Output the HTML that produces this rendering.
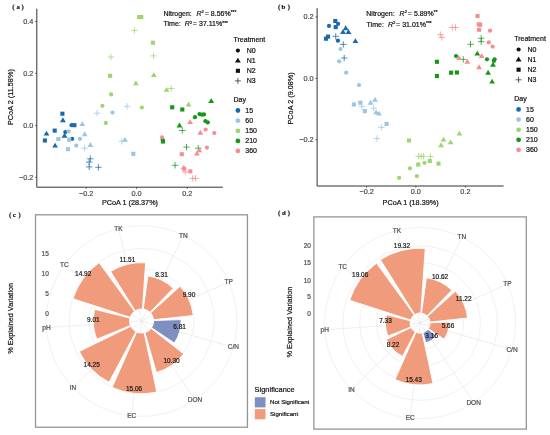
<!DOCTYPE html>
<html><head><meta charset="utf-8"><style>
html,body{margin:0;padding:0;background:#fff;width:550px;height:435px;overflow:hidden}
svg{display:block;filter:blur(0.35px)}
text{font-family:"Liberation Sans",sans-serif;stroke-width:0.2px}
</style></head><body>
<svg width="550" height="435" viewBox="0 0 550 435">
<rect width="550" height="435" fill="#fff"/>
<rect x="60.35" y="111.65" width="4.1" height="4.1" fill="#176aae"/>
<circle cx="71.6" cy="125.2" r="2.1" fill="#176aae"/>
<rect x="72.35" y="123.15" width="4.1" height="4.1" fill="#176aae"/>
<rect x="52.65" y="128.55" width="4.1" height="4.1" fill="#176aae"/>
<rect x="42.85" y="138.45" width="4.1" height="4.1" fill="#176aae"/>
<path d="M62.90 117.36L65.80 122.26L60.00 122.26Z" fill="#176aae"/>
<path d="M46.50 130.66L49.40 135.56L43.60 135.56Z" fill="#176aae"/>
<path d="M64.50 132.86L67.40 137.76L61.60 137.76Z" fill="#176aae"/>
<path d="M55.10 142.66L58.00 147.56L52.20 147.56Z" fill="#176aae"/>
<circle cx="65.3" cy="132.1" r="2.1" fill="#176aae"/>
<circle cx="72.2" cy="138.8" r="2.1" fill="#176aae"/>
<path d="M87.10 158.80H93.50M90.30 155.60V162.00" stroke="#176aae" stroke-width="0.75" fill="none"/>
<path d="M86.00 162.10H92.40M89.20 158.90V165.30" stroke="#176aae" stroke-width="0.75" fill="none"/>
<path d="M86.00 166.90H92.40M89.20 163.70V170.10" stroke="#176aae" stroke-width="0.75" fill="none"/>
<path d="M95.20 167.30H101.60M98.40 164.10V170.50" stroke="#176aae" stroke-width="0.75" fill="none"/>
<path d="M82.30 121.16L85.20 126.06L79.40 126.06Z" fill="#98c6e4"/>
<path d="M84.70 131.26L87.60 136.16L81.80 136.16Z" fill="#98c6e4"/>
<path d="M90.40 142.06L93.30 146.96L87.50 146.96Z" fill="#98c6e4"/>
<path d="M125.00 136.96L127.90 141.86L122.10 141.86Z" fill="#98c6e4"/>
<circle cx="68.6" cy="131.4" r="2.1" fill="#98c6e4"/>
<circle cx="80.0" cy="138.8" r="2.1" fill="#98c6e4"/>
<circle cx="76.3" cy="145.6" r="2.1" fill="#98c6e4"/>
<circle cx="112.5" cy="112.6" r="2.1" fill="#98c6e4"/>
<rect x="56.25" y="136.95" width="4.1" height="4.1" fill="#98c6e4"/>
<rect x="67.15" y="137.65" width="4.1" height="4.1" fill="#98c6e4"/>
<rect x="65.95" y="147.15" width="4.1" height="4.1" fill="#98c6e4"/>
<rect x="131.25" y="151.75" width="4.1" height="4.1" fill="#98c6e4"/>
<path d="M81.40 148.20H87.80M84.60 145.00V151.40" stroke="#98c6e4" stroke-width="0.75" fill="none"/>
<path d="M93.80 113.20H100.20M97.00 110.00V116.40" stroke="#98c6e4" stroke-width="0.75" fill="none"/>
<path d="M123.80 106.30H130.20M127.00 103.10V109.50" stroke="#98c6e4" stroke-width="0.75" fill="none"/>
<path d="M118.60 141.30H125.00M121.80 138.10V144.50" stroke="#98c6e4" stroke-width="0.75" fill="none"/>
<rect x="137.15" y="14.95" width="4.1" height="4.1" fill="#9bd66e"/>
<rect x="139.25" y="14.95" width="4.1" height="4.1" fill="#9bd66e"/>
<rect x="150.85" y="40.65" width="4.1" height="4.1" fill="#9bd66e"/>
<rect x="108.05" y="73.75" width="4.1" height="4.1" fill="#9bd66e"/>
<path d="M131.20 30.40H137.60M134.40 27.20V33.60" stroke="#9bd66e" stroke-width="0.75" fill="none"/>
<path d="M107.70 57.00H114.10M110.90 53.80V60.20" stroke="#9bd66e" stroke-width="0.75" fill="none"/>
<path d="M150.30 55.90H156.70M153.50 52.70V59.10" stroke="#9bd66e" stroke-width="0.75" fill="none"/>
<path d="M168.00 88.50H174.40M171.20 85.30V91.70" stroke="#9bd66e" stroke-width="0.75" fill="none"/>
<path d="M153.80 72.16L156.70 77.06L150.90 77.06Z" fill="#9bd66e"/>
<path d="M135.90 80.46L138.80 85.36L133.00 85.36Z" fill="#9bd66e"/>
<path d="M166.60 86.96L169.50 91.86L163.70 91.86Z" fill="#9bd66e"/>
<path d="M188.60 101.56L191.50 106.46L185.70 106.46Z" fill="#9bd66e"/>
<circle cx="111.1" cy="94.4" r="2.1" fill="#9bd66e"/>
<circle cx="102.4" cy="105.8" r="2.1" fill="#9bd66e"/>
<circle cx="141.9" cy="107.5" r="2.1" fill="#9bd66e"/>
<circle cx="105.8" cy="122.9" r="2.1" fill="#9bd66e"/>
<path d="M211.20 98.06L214.10 102.96L208.30 102.96Z" fill="#169816"/>
<path d="M179.50 122.56L182.40 127.46L176.60 127.46Z" fill="#169816"/>
<rect x="170.15" y="105.25" width="4.1" height="4.1" fill="#169816"/>
<rect x="180.25" y="107.45" width="4.1" height="4.1" fill="#169816"/>
<circle cx="162.6" cy="139.8" r="2.1" fill="#169816"/>
<rect x="160.95" y="139.45" width="4.1" height="4.1" fill="#169816"/>
<circle cx="199.5" cy="114.1" r="2.1" fill="#169816"/>
<circle cx="201.9" cy="114.7" r="2.1" fill="#169816"/>
<circle cx="204.0" cy="114.4" r="2.1" fill="#169816"/>
<circle cx="195.0" cy="117.2" r="2.1" fill="#169816"/>
<circle cx="205.3" cy="121.1" r="2.1" fill="#169816"/>
<circle cx="207.8" cy="122.4" r="2.1" fill="#169816"/>
<path d="M179.10 130.50H185.50M182.30 127.30V133.70" stroke="#169816" stroke-width="0.75" fill="none"/>
<path d="M183.30 147.10H189.70M186.50 143.90V150.30" stroke="#169816" stroke-width="0.75" fill="none"/>
<path d="M195.10 148.20H201.50M198.30 145.00V151.40" stroke="#169816" stroke-width="0.75" fill="none"/>
<path d="M171.90 165.30H178.30M175.10 162.10V168.50" stroke="#169816" stroke-width="0.75" fill="none"/>
<circle cx="162.0" cy="137.3" r="2.1" fill="#f98c90"/>
<circle cx="205.7" cy="129.5" r="2.1" fill="#f98c90"/>
<circle cx="214.3" cy="133.0" r="2.1" fill="#f98c90"/>
<circle cx="206.9" cy="147.6" r="2.1" fill="#f98c90"/>
<path d="M190.10 119.16L193.00 124.06L187.20 124.06Z" fill="#f98c90"/>
<path d="M200.30 129.86L203.20 134.76L197.40 134.76Z" fill="#f98c90"/>
<path d="M199.30 147.46L202.20 152.36L196.40 152.36Z" fill="#f98c90"/>
<path d="M196.90 150.66L199.80 155.56L194.00 155.56Z" fill="#f98c90"/>
<rect x="179.75" y="152.15" width="4.1" height="4.1" fill="#f98c90"/>
<rect x="181.95" y="166.55" width="4.1" height="4.1" fill="#f98c90"/>
<rect x="188.25" y="169.35" width="4.1" height="4.1" fill="#f98c90"/>
<path d="M180.40 168.40H186.80M183.60 165.20V171.60" stroke="#f98c90" stroke-width="0.75" fill="none"/>
<path d="M182.10 172.00H188.50M185.30 168.80V175.20" stroke="#f98c90" stroke-width="0.75" fill="none"/>
<path d="M189.50 178.40H195.90M192.70 175.20V181.60" stroke="#f98c90" stroke-width="0.75" fill="none"/>
<path d="M192.30 178.40H198.70M195.50 175.20V181.60" stroke="#f98c90" stroke-width="0.75" fill="none"/>
<path d="M36.8 8.7V187.2H222.8" stroke="#333333" stroke-width="1" fill="none"/>
<path d="M35.199999999999996 21.5H36.8" stroke="#333333" stroke-width="0.8"/>
<text x="33.30" y="23.80" font-size="7.3" text-anchor="end" fill="#4d4d4d" stroke="#4d4d4d">0.4</text>
<path d="M35.199999999999996 73.4H36.8" stroke="#333333" stroke-width="0.8"/>
<text x="33.30" y="75.70" font-size="7.3" text-anchor="end" fill="#4d4d4d" stroke="#4d4d4d">0.2</text>
<path d="M35.199999999999996 125.4H36.8" stroke="#333333" stroke-width="0.8"/>
<text x="33.30" y="127.70" font-size="7.3" text-anchor="end" fill="#4d4d4d" stroke="#4d4d4d">0.0</text>
<path d="M35.199999999999996 177.4H36.8" stroke="#333333" stroke-width="0.8"/>
<text x="33.30" y="179.70" font-size="7.3" text-anchor="end" fill="#4d4d4d" stroke="#4d4d4d">−0.2</text>
<path d="M86.1 187.2V188.79999999999998" stroke="#333333" stroke-width="0.8"/>
<text x="86.10" y="195.60" font-size="7.3" text-anchor="middle" fill="#4d4d4d" stroke="#4d4d4d">−0.2</text>
<path d="M136.5 187.2V188.79999999999998" stroke="#333333" stroke-width="0.8"/>
<text x="136.50" y="195.60" font-size="7.3" text-anchor="middle" fill="#4d4d4d" stroke="#4d4d4d">0.0</text>
<path d="M187.3 187.2V188.79999999999998" stroke="#333333" stroke-width="0.8"/>
<text x="187.30" y="195.60" font-size="7.3" text-anchor="middle" fill="#4d4d4d" stroke="#4d4d4d">0.2</text>
<circle cx="329.0" cy="25.9" r="2.1" fill="#176aae"/>
<rect x="333.25" y="18.95" width="4.1" height="4.1" fill="#176aae"/>
<circle cx="338.1" cy="23.8" r="2.1" fill="#176aae"/>
<rect x="333.65" y="25.05" width="4.1" height="4.1" fill="#176aae"/>
<path d="M343.00 29.06L345.90 33.96L340.10 33.96Z" fill="#176aae"/>
<path d="M348.50 29.06L351.40 33.96L345.60 33.96Z" fill="#176aae"/>
<path d="M345.70 25.36L348.60 30.26L342.80 30.26Z" fill="#176aae"/>
<rect x="323.95" y="36.65" width="4.1" height="4.1" fill="#176aae"/>
<rect x="325.95" y="34.55" width="4.1" height="4.1" fill="#176aae"/>
<path d="M332.50 36.30H338.90M335.70 33.10V39.50" stroke="#176aae" stroke-width="0.75" fill="none"/>
<circle cx="337.9" cy="40.7" r="2.1" fill="#176aae"/>
<path d="M340.10 44.40H346.50M343.30 41.20V47.60" stroke="#176aae" stroke-width="0.75" fill="none"/>
<path d="M355.40 38.16L358.30 43.06L352.50 43.06Z" fill="#176aae"/>
<path d="M341.00 58.00H347.40M344.20 54.80V61.20" stroke="#176aae" stroke-width="0.75" fill="none"/>
<circle cx="340.5" cy="49.0" r="2.1" fill="#98c6e4"/>
<circle cx="339.1" cy="61.3" r="2.1" fill="#98c6e4"/>
<circle cx="346.2" cy="72.7" r="2.1" fill="#98c6e4"/>
<circle cx="359.0" cy="85.0" r="2.1" fill="#98c6e4"/>
<rect x="351.85" y="102.45" width="4.1" height="4.1" fill="#98c6e4"/>
<rect x="358.25" y="100.65" width="4.1" height="4.1" fill="#98c6e4"/>
<rect x="362.75" y="109.05" width="4.1" height="4.1" fill="#98c6e4"/>
<rect x="384.55" y="121.85" width="4.1" height="4.1" fill="#98c6e4"/>
<path d="M358.70 106.40H365.10M361.90 103.20V109.60" stroke="#98c6e4" stroke-width="0.75" fill="none"/>
<path d="M370.60 108.20H377.00M373.80 105.00V111.40" stroke="#98c6e4" stroke-width="0.75" fill="none"/>
<path d="M378.10 127.40H384.50M381.30 124.20V130.60" stroke="#98c6e4" stroke-width="0.75" fill="none"/>
<path d="M373.70 138.60H380.10M376.90 135.40V141.80" stroke="#98c6e4" stroke-width="0.75" fill="none"/>
<path d="M370.60 99.76L373.50 104.66L367.70 104.66Z" fill="#98c6e4"/>
<path d="M375.00 96.96L377.90 101.86L372.10 101.86Z" fill="#98c6e4"/>
<path d="M376.10 109.46L379.00 114.36L373.20 114.36Z" fill="#98c6e4"/>
<path d="M379.00 110.66L381.90 115.56L376.10 115.56Z" fill="#98c6e4"/>
<rect x="406.95" y="138.45" width="4.1" height="4.1" fill="#9bd66e"/>
<rect x="416.15" y="162.45" width="4.1" height="4.1" fill="#9bd66e"/>
<rect x="427.75" y="158.95" width="4.1" height="4.1" fill="#9bd66e"/>
<rect x="436.45" y="161.55" width="4.1" height="4.1" fill="#9bd66e"/>
<path d="M415.50 156.30H421.90M418.70 153.10V159.50" stroke="#9bd66e" stroke-width="0.75" fill="none"/>
<path d="M418.00 156.30H424.40M421.20 153.10V159.50" stroke="#9bd66e" stroke-width="0.75" fill="none"/>
<path d="M420.40 156.30H426.80M423.60 153.10V159.50" stroke="#9bd66e" stroke-width="0.75" fill="none"/>
<path d="M427.20 156.40H433.60M430.40 153.20V159.60" stroke="#9bd66e" stroke-width="0.75" fill="none"/>
<circle cx="424.5" cy="162.8" r="2.1" fill="#9bd66e"/>
<circle cx="410.0" cy="168.3" r="2.1" fill="#9bd66e"/>
<circle cx="416.8" cy="176.1" r="2.1" fill="#9bd66e"/>
<circle cx="399.1" cy="177.8" r="2.1" fill="#9bd66e"/>
<path d="M459.40 130.66L462.30 135.56L456.50 135.56Z" fill="#9bd66e"/>
<path d="M443.50 136.66L446.40 141.56L440.60 141.56Z" fill="#9bd66e"/>
<path d="M450.60 139.46L453.50 144.36L447.70 144.36Z" fill="#9bd66e"/>
<path d="M441.10 142.36L444.00 147.26L438.20 147.26Z" fill="#9bd66e"/>
<rect x="434.85" y="59.75" width="4.1" height="4.1" fill="#169816"/>
<rect x="434.85" y="73.95" width="4.1" height="4.1" fill="#169816"/>
<rect x="449.05" y="70.65" width="4.1" height="4.1" fill="#169816"/>
<rect x="454.85" y="70.45" width="4.1" height="4.1" fill="#169816"/>
<circle cx="456.0" cy="56.0" r="2.1" fill="#169816"/>
<circle cx="487.0" cy="59.3" r="2.1" fill="#169816"/>
<circle cx="494.6" cy="59.3" r="2.1" fill="#169816"/>
<circle cx="493.9" cy="60.9" r="2.1" fill="#169816"/>
<path d="M477.30 50.66L480.20 55.56L474.40 55.56Z" fill="#169816"/>
<path d="M493.00 61.76L495.90 66.66L490.10 66.66Z" fill="#169816"/>
<path d="M488.10 69.76L491.00 74.66L485.20 74.66Z" fill="#169816"/>
<path d="M492.10 78.66L495.00 83.56L489.20 83.56Z" fill="#169816"/>
<path d="M467.30 44.30H473.70M470.50 41.10V47.50" stroke="#169816" stroke-width="0.75" fill="none"/>
<path d="M478.00 38.20H484.40M481.20 35.00V41.40" stroke="#169816" stroke-width="0.75" fill="none"/>
<path d="M478.00 41.70H484.40M481.20 38.50V44.90" stroke="#169816" stroke-width="0.75" fill="none"/>
<path d="M460.10 59.40H466.50M463.30 56.20V62.60" stroke="#169816" stroke-width="0.75" fill="none"/>
<rect x="475.45" y="14.05" width="4.1" height="4.1" fill="#f98c90"/>
<rect x="476.75" y="22.25" width="4.1" height="4.1" fill="#f98c90"/>
<rect x="478.15" y="22.75" width="4.1" height="4.1" fill="#f98c90"/>
<rect x="477.05" y="27.75" width="4.1" height="4.1" fill="#f98c90"/>
<path d="M449.10 27.50H455.50M452.30 24.30V30.70" stroke="#f98c90" stroke-width="0.75" fill="none"/>
<path d="M452.30 27.50H458.70M455.50 24.30V30.70" stroke="#f98c90" stroke-width="0.75" fill="none"/>
<path d="M437.10 34.60H443.50M440.30 31.40V37.80" stroke="#f98c90" stroke-width="0.75" fill="none"/>
<path d="M438.70 37.40H445.10M441.90 34.20V40.60" stroke="#f98c90" stroke-width="0.75" fill="none"/>
<circle cx="490.0" cy="30.7" r="2.1" fill="#f98c90"/>
<circle cx="488.8" cy="42.4" r="2.1" fill="#f98c90"/>
<circle cx="492.6" cy="46.6" r="2.1" fill="#f98c90"/>
<path d="M481.60 53.16L484.50 58.06L478.70 58.06Z" fill="#f98c90"/>
<path d="M458.80 54.96L461.70 59.86L455.90 59.86Z" fill="#f98c90"/>
<path d="M467.30 58.76L470.20 63.66L464.40 63.66Z" fill="#f98c90"/>
<path d="M479.00 64.26L481.90 69.16L476.10 69.16Z" fill="#f98c90"/>
<path d="M317.1 8.2V186.0H503.6" stroke="#333333" stroke-width="1" fill="none"/>
<path d="M315.5 16.9H317.1" stroke="#333333" stroke-width="0.8"/>
<text x="313.60" y="19.20" font-size="7.3" text-anchor="end" fill="#4d4d4d" stroke="#4d4d4d">0.2</text>
<path d="M315.5 78.4H317.1" stroke="#333333" stroke-width="0.8"/>
<text x="313.60" y="80.70" font-size="7.3" text-anchor="end" fill="#4d4d4d" stroke="#4d4d4d">0.0</text>
<path d="M315.5 139.8H317.1" stroke="#333333" stroke-width="0.8"/>
<text x="313.60" y="142.10" font-size="7.3" text-anchor="end" fill="#4d4d4d" stroke="#4d4d4d">−0.2</text>
<path d="M366.6 186.0V187.6" stroke="#333333" stroke-width="0.8"/>
<text x="366.60" y="194.40" font-size="7.3" text-anchor="middle" fill="#4d4d4d" stroke="#4d4d4d">−0.2</text>
<path d="M415.8 186.0V187.6" stroke="#333333" stroke-width="0.8"/>
<text x="415.80" y="194.40" font-size="7.3" text-anchor="middle" fill="#4d4d4d" stroke="#4d4d4d">0.0</text>
<path d="M465.4 186.0V187.6" stroke="#333333" stroke-width="0.8"/>
<text x="465.40" y="194.40" font-size="7.3" text-anchor="middle" fill="#4d4d4d" stroke="#4d4d4d">0.2</text>
<text x="130.00" y="204.60" font-size="7.25" text-anchor="middle" fill="#111" stroke="#111">PCoA 1 (28.37%)</text>
<text x="410.60" y="204.80" font-size="7.25" text-anchor="middle" fill="#111" stroke="#111">PCoA 1 (18.39%)</text>
<text x="0.00" y="0.00" font-size="7.3" text-anchor="middle" fill="#111" stroke="#111" transform="translate(12.6 97.1) rotate(-90)">PCoA 2 (11.58%)</text>
<text x="0.00" y="0.00" font-size="7.3" text-anchor="middle" fill="#111" stroke="#111" transform="translate(293.0 98.4) rotate(-90)">PCoA 2 (9.08%)</text>
<text y="15.7" font-size="7" fill="#111" stroke="#111"><tspan x="163.4">Nitrogen:</tspan><tspan x="196.5" font-style="italic">R</tspan><tspan font-size="4.3" dy="-2.8">2</tspan><tspan x="204.7" dy="2.8">=</tspan><tspan x="210.8">8.56%</tspan><tspan font-size="4.8" dy="-1.3" dx="0.1">***</tspan></text>
<text y="26.3" font-size="7" fill="#111" stroke="#111"><tspan x="163.5">Time:</tspan><tspan x="184.7" font-style="italic">R</tspan><tspan font-size="4.3" dy="-2.8">2</tspan><tspan x="192.8" dy="2.8">=</tspan><tspan x="199.0">37.11%</tspan><tspan font-size="4.8" dy="-1.3" dx="0.1">***</tspan></text>
<text y="15.7" font-size="7" fill="#111" stroke="#111"><tspan x="366.3">Nitrogen:</tspan><tspan x="399.6" font-style="italic">R</tspan><tspan font-size="4.3" dy="-2.8">2</tspan><tspan x="407.7" dy="2.8">=</tspan><tspan x="413.9">5.89%</tspan><tspan font-size="4.8" dy="-1.3" dx="0.1">**</tspan></text>
<text y="26.5" font-size="7" fill="#111" stroke="#111"><tspan x="366.6">Time:</tspan><tspan x="387.9" font-style="italic">R</tspan><tspan font-size="4.3" dy="-2.8">2</tspan><tspan x="396.0" dy="2.8">=</tspan><tspan x="402.2">31.01%</tspan><tspan font-size="4.8" dy="-1.3" dx="0.1">***</tspan></text>
<text x="233.50" y="42.30" font-size="7" text-anchor="start" fill="#111" stroke="#111">Treatment</text>
<circle cx="237.9" cy="50.6" r="2.1" fill="#111"/>
<text x="246.70" y="53.10" font-size="7" text-anchor="start" fill="#111" stroke="#111">N0</text>
<path d="M237.90 57.66L240.80 62.56L235.00 62.56Z" fill="#111"/>
<text x="246.70" y="63.10" font-size="7" text-anchor="start" fill="#111" stroke="#111">N1</text>
<rect x="235.85" y="68.75" width="4.1" height="4.1" fill="#111"/>
<text x="246.70" y="73.30" font-size="7" text-anchor="start" fill="#111" stroke="#111">N2</text>
<path d="M234.90 80.90H240.90M237.90 77.90V83.90" stroke="#333" stroke-width="0.8" fill="none"/>
<text x="246.70" y="83.40" font-size="7" text-anchor="start" fill="#111" stroke="#111">N3</text>
<text x="233.50" y="102.40" font-size="7" text-anchor="start" fill="#111" stroke="#111">Day</text>
<circle cx="237.9" cy="110.5" r="2.4" fill="#176aae"/>
<text x="245.30" y="113.00" font-size="7" text-anchor="start" fill="#111" stroke="#111">15</text>
<circle cx="237.9" cy="120.7" r="2.4" fill="#98c6e4"/>
<text x="245.30" y="123.20" font-size="7" text-anchor="start" fill="#111" stroke="#111">60</text>
<circle cx="237.9" cy="130.9" r="2.4" fill="#9bd66e"/>
<text x="245.30" y="133.40" font-size="7" text-anchor="start" fill="#111" stroke="#111">150</text>
<circle cx="237.9" cy="140.9" r="2.4" fill="#169816"/>
<text x="245.30" y="143.40" font-size="7" text-anchor="start" fill="#111" stroke="#111">210</text>
<circle cx="237.9" cy="150.9" r="2.4" fill="#f98c90"/>
<text x="245.30" y="153.40" font-size="7" text-anchor="start" fill="#111" stroke="#111">360</text>
<text x="514.20" y="41.20" font-size="7" text-anchor="start" fill="#111" stroke="#111">Treatment</text>
<circle cx="518.6" cy="49.5" r="2.1" fill="#111"/>
<text x="527.40" y="52.00" font-size="7" text-anchor="start" fill="#111" stroke="#111">N0</text>
<path d="M518.60 56.56L521.50 61.46L515.70 61.46Z" fill="#111"/>
<text x="527.40" y="62.00" font-size="7" text-anchor="start" fill="#111" stroke="#111">N1</text>
<rect x="516.55" y="67.65" width="4.1" height="4.1" fill="#111"/>
<text x="527.40" y="72.20" font-size="7" text-anchor="start" fill="#111" stroke="#111">N2</text>
<path d="M515.60 79.80H521.60M518.60 76.80V82.80" stroke="#333" stroke-width="0.8" fill="none"/>
<text x="527.40" y="82.30" font-size="7" text-anchor="start" fill="#111" stroke="#111">N3</text>
<text x="514.20" y="101.30" font-size="7" text-anchor="start" fill="#111" stroke="#111">Day</text>
<circle cx="518.6" cy="109.4" r="2.4" fill="#176aae"/>
<text x="526.00" y="111.90" font-size="7" text-anchor="start" fill="#111" stroke="#111">15</text>
<circle cx="518.6" cy="119.6" r="2.4" fill="#98c6e4"/>
<text x="526.00" y="122.10" font-size="7" text-anchor="start" fill="#111" stroke="#111">60</text>
<circle cx="518.6" cy="129.8" r="2.4" fill="#9bd66e"/>
<text x="526.00" y="132.30" font-size="7" text-anchor="start" fill="#111" stroke="#111">150</text>
<circle cx="518.6" cy="139.8" r="2.4" fill="#169816"/>
<text x="526.00" y="142.30" font-size="7" text-anchor="start" fill="#111" stroke="#111">210</text>
<circle cx="518.6" cy="149.8" r="2.4" fill="#f98c90"/>
<text x="526.00" y="152.30" font-size="7" text-anchor="start" fill="#111" stroke="#111">360</text>
<text x="12.3 16.5 21.6" y="9.0" font-size="6.8" font-weight="bold" fill="#1a1a1a" stroke="#1a1a1a" stroke-width="0.25" style="font-family:'Liberation Serif',serif">(a)</text>
<text x="277.9 281.6 287.8" y="8.7" font-size="6.8" font-weight="bold" fill="#1a1a1a" stroke="#1a1a1a" stroke-width="0.25" style="font-family:'Liberation Serif',serif">(b)</text>
<text x="8.9 12.7 18.5" y="216.9" font-size="6.8" font-weight="bold" fill="#1a1a1a" stroke="#1a1a1a" stroke-width="0.25" style="font-family:'Liberation Serif',serif">(c)</text>
<text x="277.9 281.9 287.8" y="214.7" font-size="6.8" font-weight="bold" fill="#1a1a1a" stroke="#1a1a1a" stroke-width="0.25" style="font-family:'Liberation Serif',serif">(d)</text>
<circle cx="141.6" cy="321.0" r="12.07" fill="none" stroke="#ebebeb" stroke-width="0.7"/>
<circle cx="141.6" cy="321.0" r="32.20" fill="none" stroke="#ebebeb" stroke-width="0.7"/>
<circle cx="141.6" cy="321.0" r="52.32" fill="none" stroke="#ebebeb" stroke-width="0.7"/>
<circle cx="141.6" cy="321.0" r="72.44" fill="none" stroke="#ebebeb" stroke-width="0.7"/>
<circle cx="141.6" cy="321.0" r="95.36" fill="none" stroke="#ebebeb" stroke-width="0.7"/>
<path d="M141.6 321.0L233.29 347.19" stroke="#e6e6e6" stroke-width="0.7"/>
<path d="M141.6 321.0L195.00 400.00" stroke="#e6e6e6" stroke-width="0.7"/>
<path d="M141.6 321.0L131.73 415.84" stroke="#e6e6e6" stroke-width="0.7"/>
<path d="M141.6 321.0L73.07 387.31" stroke="#e6e6e6" stroke-width="0.7"/>
<path d="M141.6 321.0L46.48 327.75" stroke="#e6e6e6" stroke-width="0.7"/>
<path d="M141.6 321.0L64.40 265.03" stroke="#e6e6e6" stroke-width="0.7"/>
<path d="M141.6 321.0L118.44 228.50" stroke="#e6e6e6" stroke-width="0.7"/>
<path d="M141.6 321.0L183.32 235.25" stroke="#e6e6e6" stroke-width="0.7"/>
<path d="M141.6 321.0L228.67 282.13" stroke="#e6e6e6" stroke-width="0.7"/>
<path d="M153.67 320.57L181.06 319.58A39.48 39.48 0 0 1 174.35 343.05L151.62 327.74A12.07 12.07 0 0 0 153.67 320.57Z" fill="#7f8fc0" stroke="#fff" stroke-width="0.9"/>
<path d="M151.12 328.42L183.81 353.91A53.53 53.53 0 0 1 156.41 372.44L144.94 332.60A12.07 12.07 0 0 0 151.12 328.42Z" fill="#f09b7c" stroke="#fff" stroke-width="0.9"/>
<path d="M144.12 332.81L156.78 392.08A72.69 72.69 0 0 1 112.10 387.43L136.70 332.04A12.07 12.07 0 0 0 144.12 332.81Z" fill="#f09b7c" stroke="#fff" stroke-width="0.9"/>
<path d="M135.94 331.67L109.07 382.33A69.43 69.43 0 0 1 79.23 351.50L130.75 326.30A12.07 12.07 0 0 0 135.94 331.67Z" fill="#f09b7c" stroke="#fff" stroke-width="0.9"/>
<path d="M130.41 325.53L96.80 339.15A48.34 48.34 0 0 1 94.69 309.35L129.88 318.09A12.07 12.07 0 0 0 130.41 325.53Z" fill="#f09b7c" stroke="#fff" stroke-width="0.9"/>
<path d="M130.11 317.28L72.99 298.78A72.12 72.12 0 0 1 99.15 262.69L134.49 311.24A12.07 12.07 0 0 0 130.11 317.28Z" fill="#f09b7c" stroke="#fff" stroke-width="0.9"/>
<path d="M135.19 310.77L110.60 271.51A58.40 58.40 0 0 1 145.62 262.74L142.43 308.95A12.07 12.07 0 0 0 135.19 310.77Z" fill="#f09b7c" stroke="#fff" stroke-width="0.9"/>
<path d="M143.27 309.04L147.89 275.92A45.52 45.52 0 0 1 173.19 288.23L149.98 312.31A12.07 12.07 0 0 0 143.27 309.04Z" fill="#f09b7c" stroke="#fff" stroke-width="0.9"/>
<path d="M150.56 312.91L180.15 286.22A51.92 51.92 0 0 1 193.23 315.52L153.61 319.73A12.07 12.07 0 0 0 150.56 312.91Z" fill="#f09b7c" stroke="#fff" stroke-width="0.9"/>
<text x="179.56" y="329.15" font-size="6.5" text-anchor="middle" fill="#1a1a1a" stroke="#1a1a1a">6.81</text>
<text x="171.58" y="362.65" font-size="6.5" text-anchor="middle" fill="#1a1a1a" stroke="#1a1a1a">10.30</text>
<text x="134.07" y="390.60" font-size="6.5" text-anchor="middle" fill="#1a1a1a" stroke="#1a1a1a">15.06</text>
<text x="91.71" y="366.58" font-size="6.5" text-anchor="middle" fill="#1a1a1a" stroke="#1a1a1a">14.25</text>
<text x="93.38" y="321.72" font-size="6.5" text-anchor="middle" fill="#1a1a1a" stroke="#1a1a1a">9.01</text>
<text x="83.21" y="275.96" font-size="6.5" text-anchor="middle" fill="#1a1a1a" stroke="#1a1a1a">14.92</text>
<text x="127.42" y="261.65" font-size="6.5" text-anchor="middle" fill="#1a1a1a" stroke="#1a1a1a">11.51</text>
<text x="161.51" y="277.37" font-size="6.5" text-anchor="middle" fill="#1a1a1a" stroke="#1a1a1a">8.31</text>
<text x="189.01" y="297.14" font-size="6.5" text-anchor="middle" fill="#1a1a1a" stroke="#1a1a1a">9.90</text>
<text x="233.29" y="349.49" font-size="6.5" text-anchor="middle" fill="#4d4d4d" stroke="#4d4d4d">C/N</text>
<text x="195.00" y="402.30" font-size="6.5" text-anchor="middle" fill="#4d4d4d" stroke="#4d4d4d">DON</text>
<text x="131.73" y="418.14" font-size="6.5" text-anchor="middle" fill="#4d4d4d" stroke="#4d4d4d">EC</text>
<text x="73.07" y="389.61" font-size="6.5" text-anchor="middle" fill="#4d4d4d" stroke="#4d4d4d">IN</text>
<text x="46.48" y="330.05" font-size="6.5" text-anchor="middle" fill="#4d4d4d" stroke="#4d4d4d">pH</text>
<text x="64.40" y="267.33" font-size="6.5" text-anchor="middle" fill="#4d4d4d" stroke="#4d4d4d">TC</text>
<text x="118.44" y="230.80" font-size="6.5" text-anchor="middle" fill="#4d4d4d" stroke="#4d4d4d">TK</text>
<text x="183.32" y="237.55" font-size="6.5" text-anchor="middle" fill="#4d4d4d" stroke="#4d4d4d">TN</text>
<text x="228.67" y="284.43" font-size="6.5" text-anchor="middle" fill="#4d4d4d" stroke="#4d4d4d">TP</text>
<text x="48.80" y="255.70" font-size="6.5" text-anchor="end" fill="#4d4d4d" stroke="#4d4d4d">15</text>
<text x="48.80" y="275.90" font-size="6.5" text-anchor="end" fill="#4d4d4d" stroke="#4d4d4d">10</text>
<text x="48.80" y="296.30" font-size="6.5" text-anchor="end" fill="#4d4d4d" stroke="#4d4d4d">5</text>
<text x="48.80" y="316.30" font-size="6.5" text-anchor="end" fill="#4d4d4d" stroke="#4d4d4d">0</text>
<rect x="35.5" y="214.8" width="211.95" height="212.39999999999998" fill="none" stroke="#959595" stroke-width="1.3"/>
<circle cx="420.1" cy="323.1" r="10.07" fill="none" stroke="#ebebeb" stroke-width="0.7"/>
<circle cx="420.1" cy="323.1" r="26.84" fill="none" stroke="#ebebeb" stroke-width="0.7"/>
<circle cx="420.1" cy="323.1" r="43.62" fill="none" stroke="#ebebeb" stroke-width="0.7"/>
<circle cx="420.1" cy="323.1" r="60.40" fill="none" stroke="#ebebeb" stroke-width="0.7"/>
<circle cx="420.1" cy="323.1" r="77.18" fill="none" stroke="#ebebeb" stroke-width="0.7"/>
<circle cx="420.1" cy="323.1" r="95.58" fill="none" stroke="#ebebeb" stroke-width="0.7"/>
<path d="M420.1 323.1L512.00 349.36" stroke="#e6e6e6" stroke-width="0.7"/>
<path d="M420.1 323.1L473.63 402.29" stroke="#e6e6e6" stroke-width="0.7"/>
<path d="M420.1 323.1L410.20 418.17" stroke="#e6e6e6" stroke-width="0.7"/>
<path d="M420.1 323.1L351.41 389.56" stroke="#e6e6e6" stroke-width="0.7"/>
<path d="M420.1 323.1L324.76 329.86" stroke="#e6e6e6" stroke-width="0.7"/>
<path d="M420.1 323.1L342.72 267.00" stroke="#e6e6e6" stroke-width="0.7"/>
<path d="M420.1 323.1L396.89 230.38" stroke="#e6e6e6" stroke-width="0.7"/>
<path d="M420.1 323.1L461.92 237.15" stroke="#e6e6e6" stroke-width="0.7"/>
<path d="M420.1 323.1L507.38 284.14" stroke="#e6e6e6" stroke-width="0.7"/>
<path d="M430.16 322.74L449.14 322.06A29.06 29.06 0 0 1 444.21 339.33L428.45 328.72A10.07 10.07 0 0 0 430.16 322.74Z" fill="#f09b7c" stroke="#fff" stroke-width="0.9"/>
<path d="M428.04 329.29L436.40 335.81A20.67 20.67 0 0 1 425.82 342.96L422.88 332.77A10.07 10.07 0 0 0 428.04 329.29Z" fill="#7f8fc0" stroke="#fff" stroke-width="0.9"/>
<path d="M422.20 332.94L433.02 383.58A61.84 61.84 0 0 1 395.00 379.62L416.01 332.30A10.07 10.07 0 0 0 422.20 332.94Z" fill="#f09b7c" stroke="#fff" stroke-width="0.9"/>
<path d="M415.38 331.99L402.46 356.36A37.65 37.65 0 0 1 386.28 339.64L411.06 327.52A10.07 10.07 0 0 0 415.38 331.99Z" fill="#f09b7c" stroke="#fff" stroke-width="0.9"/>
<path d="M410.77 326.88L387.97 336.12A34.66 34.66 0 0 1 386.46 314.75L410.33 320.67A10.07 10.07 0 0 0 410.77 326.88Z" fill="#f09b7c" stroke="#fff" stroke-width="0.9"/>
<path d="M410.52 320.00L349.68 300.30A74.02 74.02 0 0 1 376.53 263.26L414.18 314.96A10.07 10.07 0 0 0 410.52 320.00Z" fill="#f09b7c" stroke="#fff" stroke-width="0.9"/>
<path d="M414.76 314.57L380.35 259.63A74.89 74.89 0 0 1 425.25 248.38L420.79 313.06A10.07 10.07 0 0 0 414.76 314.57Z" fill="#f09b7c" stroke="#fff" stroke-width="0.9"/>
<path d="M421.49 313.13L426.42 277.84A45.70 45.70 0 0 1 451.81 290.19L427.09 315.85A10.07 10.07 0 0 0 421.49 313.13Z" fill="#f09b7c" stroke="#fff" stroke-width="0.9"/>
<path d="M427.57 316.36L455.53 291.14A47.71 47.71 0 0 1 467.55 318.07L430.11 322.04A10.07 10.07 0 0 0 427.57 316.36Z" fill="#f09b7c" stroke="#fff" stroke-width="0.9"/>
<text x="448.04" y="328.38" font-size="6.5" text-anchor="middle" fill="#1a1a1a" stroke="#1a1a1a">5.66</text>
<text x="431.68" y="337.52" font-size="6.5" text-anchor="middle" fill="#1a1a1a" stroke="#1a1a1a">3.16</text>
<text x="413.70" y="381.91" font-size="6.5" text-anchor="middle" fill="#1a1a1a" stroke="#1a1a1a">15.43</text>
<text x="393.04" y="346.58" font-size="6.5" text-anchor="middle" fill="#1a1a1a" stroke="#1a1a1a">8.22</text>
<text x="385.53" y="322.85" font-size="6.5" text-anchor="middle" fill="#1a1a1a" stroke="#1a1a1a">7.33</text>
<text x="360.17" y="276.95" font-size="6.5" text-anchor="middle" fill="#1a1a1a" stroke="#1a1a1a">19.06</text>
<text x="401.91" y="247.75" font-size="6.5" text-anchor="middle" fill="#1a1a1a" stroke="#1a1a1a">19.32</text>
<text x="440.09" y="279.30" font-size="6.5" text-anchor="middle" fill="#1a1a1a" stroke="#1a1a1a">10.62</text>
<text x="463.67" y="300.95" font-size="6.5" text-anchor="middle" fill="#1a1a1a" stroke="#1a1a1a">11.22</text>
<text x="512.00" y="351.66" font-size="6.5" text-anchor="middle" fill="#4d4d4d" stroke="#4d4d4d">C/N</text>
<text x="473.63" y="404.59" font-size="6.5" text-anchor="middle" fill="#4d4d4d" stroke="#4d4d4d">DON</text>
<text x="410.20" y="420.47" font-size="6.5" text-anchor="middle" fill="#4d4d4d" stroke="#4d4d4d">EC</text>
<text x="351.41" y="391.86" font-size="6.5" text-anchor="middle" fill="#4d4d4d" stroke="#4d4d4d">IN</text>
<text x="324.76" y="332.16" font-size="6.5" text-anchor="middle" fill="#4d4d4d" stroke="#4d4d4d">pH</text>
<text x="342.72" y="269.30" font-size="6.5" text-anchor="middle" fill="#4d4d4d" stroke="#4d4d4d">TC</text>
<text x="396.89" y="232.68" font-size="6.5" text-anchor="middle" fill="#4d4d4d" stroke="#4d4d4d">TK</text>
<text x="461.92" y="239.45" font-size="6.5" text-anchor="middle" fill="#4d4d4d" stroke="#4d4d4d">TN</text>
<text x="507.38" y="286.44" font-size="6.5" text-anchor="middle" fill="#4d4d4d" stroke="#4d4d4d">TP</text>
<text x="310.90" y="248.30" font-size="6.5" text-anchor="end" fill="#4d4d4d" stroke="#4d4d4d">20</text>
<text x="310.90" y="265.40" font-size="6.5" text-anchor="end" fill="#4d4d4d" stroke="#4d4d4d">15</text>
<text x="310.90" y="282.50" font-size="6.5" text-anchor="end" fill="#4d4d4d" stroke="#4d4d4d">10</text>
<text x="310.90" y="299.30" font-size="6.5" text-anchor="end" fill="#4d4d4d" stroke="#4d4d4d">5</text>
<text x="310.90" y="315.60" font-size="6.5" text-anchor="end" fill="#4d4d4d" stroke="#4d4d4d">0</text>
<rect x="313.9" y="216.9" width="212.39999999999998" height="212.20000000000002" fill="none" stroke="#959595" stroke-width="1.3"/>
<text x="0.00" y="0.00" font-size="7.3" text-anchor="middle" fill="#111" stroke="#111" transform="translate(13.0 318.3) rotate(-90)">% Explained Variation</text>
<text x="0.00" y="0.00" font-size="7.3" text-anchor="middle" fill="#111" stroke="#111" transform="translate(291.8 322.0) rotate(-90)">% Explained Variation</text>
<text x="254.60" y="392.00" font-size="7.45" text-anchor="start" fill="#111" stroke="#111">Significance</text>
<rect x="254.8" y="397.2" width="10.7" height="10.2" fill="#7f8fc0"/>
<rect x="254.8" y="409.1" width="10.7" height="10.2" fill="#f09b7c"/>
<text x="270.00" y="404.20" font-size="6.1" text-anchor="start" fill="#111" stroke="#111">Not Significant</text>
<text x="270.00" y="415.80" font-size="6.1" text-anchor="start" fill="#111" stroke="#111">Significant</text>
</svg></body></html>
